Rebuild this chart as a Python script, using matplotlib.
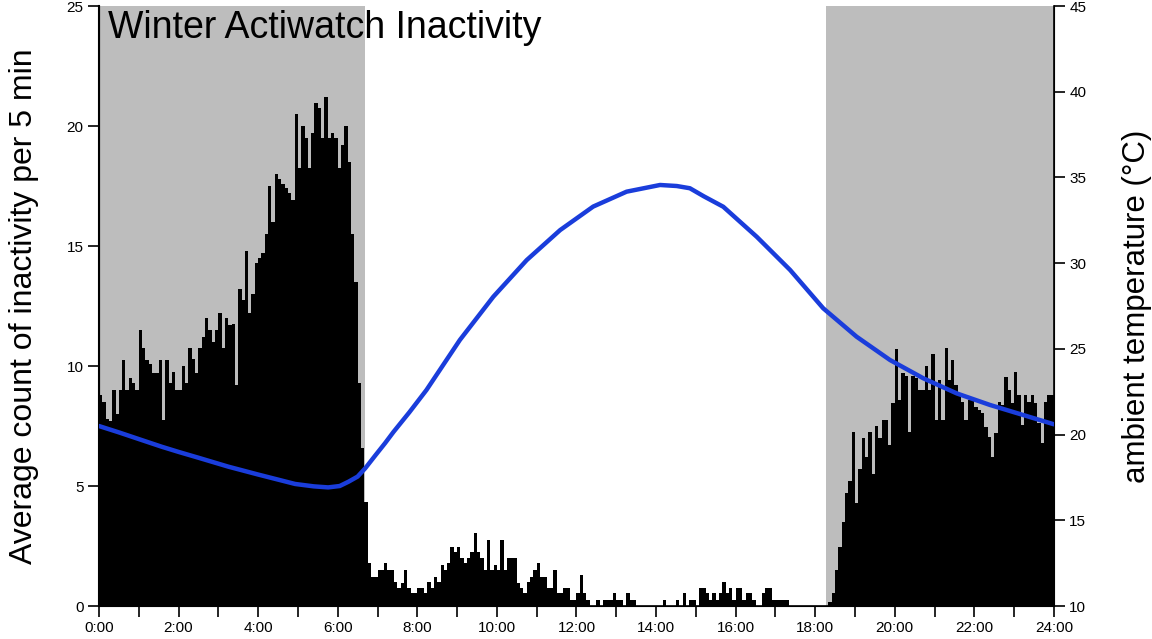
import matplotlib
matplotlib.use("Agg")
import matplotlib.pyplot as plt
import numpy as np

plt.rcParams["font.family"] = ["Liberation Sans", "DejaVu Sans"]

# average inactivity count for each 5-minute bin, 0:00 -> 24:00 (288 bins)
inactivity = [
    8.8, 8.5, 7.8, 7.7, 9.0, 8.0, 9.0, 10.25, 9.0, 9.5, 9.3, 9.0,
    11.5, 10.75, 10.25, 10.1, 9.7, 9.7, 10.25, 7.75, 10.25, 9.3, 9.75, 9.0,
    9.0, 10.0, 9.3, 10.75, 10.3, 9.7, 10.75, 11.2, 12.0, 11.5, 11.0, 11.5,
    12.2, 10.75, 12.0, 11.7, 11.75, 9.2, 13.2, 12.75, 14.8, 12.2, 13.0, 14.3,
    14.5, 14.7, 15.5, 17.5, 16.0, 18.0, 17.8, 17.6, 17.4, 17.2, 16.9, 20.5,
    18.25, 20.0, 19.5, 18.25, 19.7, 20.95, 20.75, 19.5, 21.2, 19.5, 19.7, 19.5,
    18.25, 19.2, 20.0, 18.5, 15.5, 13.5, 9.3, 6.6, 4.35, 1.8, 1.22, 1.22,
    1.5, 1.5, 1.78, 1.5, 1.5, 1.0, 0.74, 0.96, 1.5, 0.74, 0.53, 0.53,
    0.74, 0.74, 0.53, 1.0, 0.74, 1.22, 1.0, 1.7, 1.5, 1.78, 2.47, 2.26,
    2.47, 1.99, 1.78, 1.99, 2.26, 3.03, 2.26, 1.99, 1.5, 2.75, 1.5, 1.7,
    1.5, 2.75, 1.5, 1.99, 1.99, 1.99, 0.96, 0.74, 0.53, 1.0, 1.22, 1.5,
    1.78, 1.22, 1.22, 0.74, 0.74, 1.5, 0.53, 0.53, 0.74, 0.74, 0.25, 0.25,
    0.53, 1.3, 0.53, 0.25, 0, 0, 0.25, 0, 0.25, 0.25, 0.25, 0.53,
    0.25, 0.25, 0, 0.53, 0.25, 0.25, 0, 0, 0, 0, 0, 0,
    0, 0, 0.25, 0, 0, 0, 0.25, 0, 0.53, 0, 0.25, 0.25,
    0, 0.74, 0.74, 0.53, 0.25, 0.53, 0.25, 0.53, 1.0, 0.53, 0.74, 0.25,
    0.74, 0.74, 0.25, 0.53, 0.53, 0.25, 0, 0, 0.53, 0.74, 0.74, 0.25,
    0.25, 0.25, 0.25, 0.25, 0, 0, 0, 0, 0, 0, 0, 0,
    0, 0, 0, 0, 0.18, 0.53, 1.5, 2.47, 3.5, 4.7, 5.2, 7.26,
    4.3, 5.7, 7.0, 6.2, 7.26, 5.5, 7.5, 7.0, 7.75, 7.75, 6.7, 8.45,
    10.7, 8.6, 9.7, 9.6, 7.26, 9.6, 9.5, 9.0, 9.0, 10.0, 9.0, 10.5,
    7.75, 9.42, 7.75, 10.74, 9.42, 10.25, 9.21, 8.8, 8.51, 7.75, 8.58, 8.72,
    8.31, 8.17, 8.03, 7.47, 7.06, 6.22, 7.19, 8.51, 8.38, 9.56, 9.0, 8.44,
    9.76, 8.8, 7.54, 8.8, 8.51, 8.8, 8.44, 7.61, 6.78, 8.51, 8.8, 8.8,
]

# ambient temperature curve (hour of day, degC)
temp_hours = [0, 0.5, 1.0, 1.58, 2.0, 2.5, 3.25, 4.0, 4.93, 5.4, 5.76, 6.05,
              6.27, 6.5, 6.69, 6.95, 7.19, 7.4, 7.8, 8.23, 9.07, 9.91, 10.75,
              11.59, 12.42, 13.26, 14.1, 14.52, 14.85, 15.2, 15.69, 16.53,
              17.37, 18.2, 19.04, 19.88, 20.72, 21.56, 22.39, 23.23, 24.0]
temp_c = [20.5, 20.13, 19.74, 19.29, 18.99, 18.65, 18.13, 17.67, 17.12, 16.98,
          16.92, 17.0, 17.25, 17.55, 18.03, 18.8, 19.5, 20.15, 21.3, 22.6,
          25.52, 28.04, 30.18, 31.93, 33.3, 34.17, 34.56, 34.5, 34.37, 33.9,
          33.29, 31.54, 29.6, 27.37, 25.71, 24.35, 23.28, 22.4, 21.73, 21.14,
          20.6]

# dark period (night) shading
night_end = 6 + 41 / 60
night_start = 18 + 16 / 60

hour_ticks = list(range(0, 25))
hour_labels = [f"{h}:00" if h % 2 == 0 else "" for h in hour_ticks]

bin_h = 24 / len(inactivity)
bin_start = np.arange(len(inactivity)) * bin_h

fig = plt.figure(figsize=(11.52, 6.39), dpi=100)
ax = fig.add_axes([0.0859, 0.0516, 0.829, 0.939])

ax.axvspan(0, night_end, color="#bdbdbd", lw=0, zorder=0)
ax.axvspan(night_start, 24, color="#bdbdbd", lw=0, zorder=0)
ax.bar(bin_start, inactivity, width=bin_h, align="edge", color="black",
       linewidth=0, zorder=2)

ax.set_xlim(0, 24)
ax.set_ylim(0, 25)
ax.set_xticks(hour_ticks)
ax.set_xticklabels(hour_labels)
ax.set_yticks([0, 5, 10, 15, 20, 25])
ax.tick_params(direction="out", length=8, width=1.2, labelsize=11, pad=3)
ax.spines["top"].set_visible(False)
ax.spines["left"].set_linewidth(1.5)
ax.spines["bottom"].set_linewidth(1.2)
ax.set_ylabel("Average count of inactivity per 5 min", fontsize=23, labelpad=20)

ax2 = ax.twinx()
ax2.plot(temp_hours, temp_c, color="#1a3ddb", lw=3.2, solid_capstyle="round",
         solid_joinstyle="round", zorder=5)
ax2.set_ylim(10, 45)
ax2.set_yticks([10, 15, 20, 25, 30, 35, 40, 45])
ax2.tick_params(direction="out", length=8, width=1.2, labelsize=11, pad=3)
ax2.spines["top"].set_visible(False)
ax2.spines["right"].set_linewidth(1.2)
ax2.set_ylabel("ambient temperature (°C)", fontsize=22.5, labelpad=26)

ax.text(0.009, 0.993, "Winter Actiwatch Inactivity", transform=ax.transAxes,
        fontsize=27, va="top", ha="left", zorder=10)

fig.savefig("out.png", dpi=100)
